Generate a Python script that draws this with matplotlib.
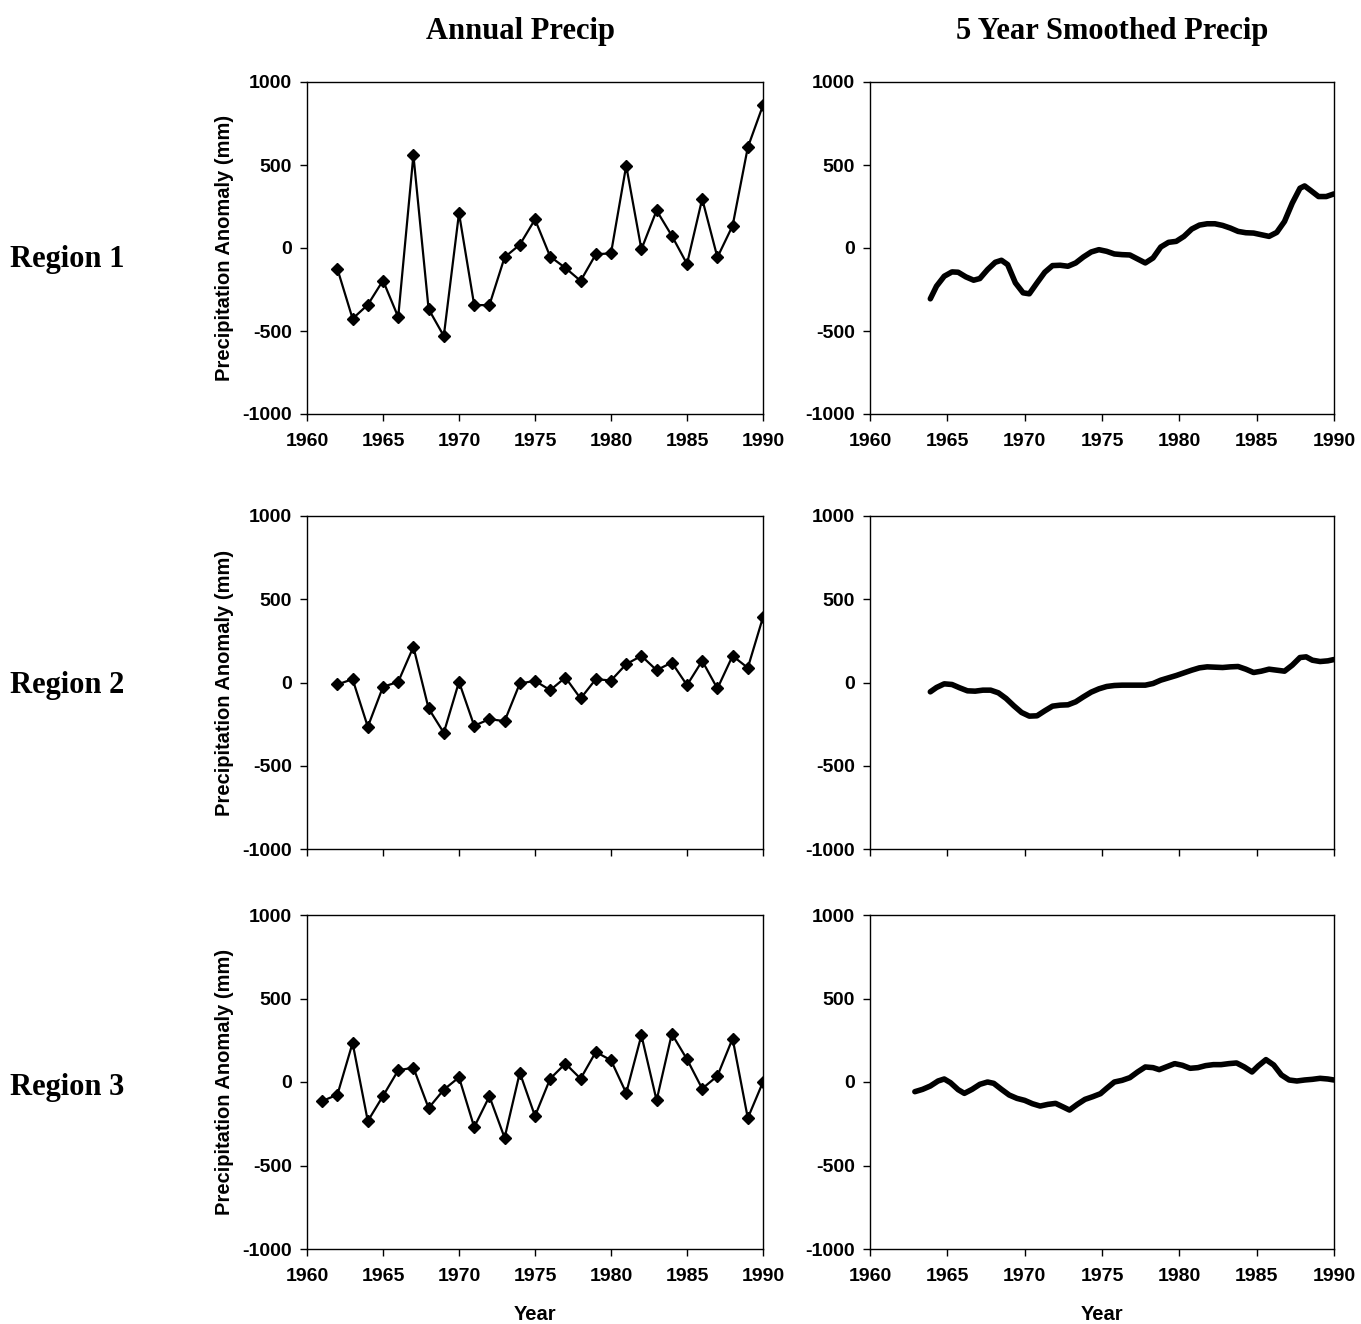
#Annual and 5 year smoothed precipitation anomaly for three regions

import matplotlib
matplotlib.use("Agg")
import matplotlib.pyplot as plt

plt.rcParams["axes.unicode_minus"] = False     #plain hyphen on negative ticks

years_r1 = list(range(1962, 1991))
annual_r1 = [-126, -426, -342, -196, -416, 560, -368, -530, 210, -344,
             -344, -56, 20, 172, -52, -120, -198, -38, -32, 496,
             -8, 226, 74, -96, 296, -56, 134, 606, 860]

years_r2 = list(range(1962, 1991))
annual_r2 = [-12, 20, -266, -26, 4, 214, -156, -302, 4, -260,
             -220, -232, -6, 10, -46, 30, -96, 20, 12, 110,
             160, 74, 120, -16, 130, -36, 160, 88, 392]

years_r3 = list(range(1961, 1991))
annual_r3 = [-114, -76, 234, -234, -84, 70, 86, -156, -46, 28,
             -270, -86, -334, 56, -204, 20, 110, 20, 180, 130,
             -66, 280, -110, 288, 136, -40, 36, 260, -216, 0]

# smoothed series, read every half year or so
smooth_x_r1 = [1963.9, 1964.3, 1964.8, 1965.3, 1965.7, 1966.2, 1966.7, 1967.1, 1967.6, 1968.1,
               1968.5, 1968.9, 1969.4, 1969.9, 1970.3, 1970.8, 1971.3, 1971.8, 1972.3, 1972.8,
               1973.3, 1973.8, 1974.3, 1974.8, 1975.3, 1975.8, 1976.3, 1976.8, 1977.3, 1977.8,
               1978.3, 1978.8, 1979.3, 1979.8, 1980.3, 1980.8, 1981.3, 1981.8, 1982.3, 1982.8,
               1983.3, 1983.8, 1984.3, 1984.8, 1985.3, 1985.8, 1986.3, 1986.8, 1987.3, 1987.8,
               1988.1, 1988.5, 1989.0, 1989.5, 1990.0]
smooth_y_r1 = [-306, -230, -170, -144, -146, -174, -194, -184, -130, -86,
               -74, -100, -210, -270, -276, -210, -146, -106, -104, -110,
               -90, -54, -24, -10, -20, -36, -40, -42, -66, -90,
               -60, 6, 34, 40, 70, 114, 138, 146, 146, 136,
               120, 100, 92, 90, 80, 70, 94, 160, 270, 360,
               374, 346, 310, 310, 326]

smooth_x_r2 = [1963.9, 1964.3, 1964.8, 1965.3, 1965.8, 1966.3, 1966.8, 1967.3, 1967.8, 1968.3,
               1968.8, 1969.3, 1969.8, 1970.3, 1970.8, 1971.3, 1971.8, 1972.3, 1972.8, 1973.3,
               1973.8, 1974.3, 1974.8, 1975.3, 1975.8, 1976.3, 1976.8, 1977.3, 1977.8, 1978.3,
               1978.8, 1979.3, 1979.8, 1980.3, 1980.8, 1981.3, 1981.8, 1982.3, 1982.8, 1983.3,
               1983.8, 1984.3, 1984.8, 1985.3, 1985.8, 1986.3, 1986.8, 1987.3, 1987.8, 1988.2,
               1988.6, 1989.1, 1989.6, 1990.0]
smooth_y_r2 = [-56, -30, -8, -12, -32, -50, -52, -46, -46, -62,
               -96, -140, -180, -202, -200, -170, -142, -136, -134, -116,
               -86, -58, -38, -24, -18, -16, -16, -16, -16, -6,
               14, 28, 42, 58, 74, 88, 94, 92, 90, 94,
               96, 80, 60, 68, 80, 74, 68, 104, 150, 154,
               134, 126, 130, 138]

smooth_x_r3 = [1962.9, 1963.4, 1963.9, 1964.4, 1964.8, 1965.2, 1965.7, 1966.1, 1966.6, 1967.1,
               1967.6, 1968.0, 1968.5, 1969.0, 1969.5, 1970.0, 1970.5, 1971.0, 1971.5, 1972.0,
               1972.5, 1972.9, 1973.4, 1973.9, 1974.4, 1974.9, 1975.3, 1975.8, 1976.3, 1976.8,
               1977.3, 1977.8, 1978.3, 1978.7, 1979.2, 1979.7, 1980.2, 1980.7, 1981.2, 1981.7,
               1982.2, 1982.7, 1983.2, 1983.7, 1984.2, 1984.7, 1985.1, 1985.6, 1986.1, 1986.6,
               1987.1, 1987.6, 1988.1, 1988.6, 1989.1, 1989.6, 1990.0]
smooth_y_r3 = [-58, -44, -24, 6, 18, -4, -46, -68, -44, -14,
               0, -8, -44, -78, -98, -110, -130, -144, -134, -128,
               -150, -168, -134, -104, -88, -70, -38, 0, 10, 26,
               60, 90, 86, 74, 92, 110, 100, 82, 86, 98,
               104, 104, 110, 114, 90, 60, 96, 134, 102, 42,
               12, 6, 12, 16, 22, 18, 12]

region_names = ["Region 1", "Region 2", "Region 3"]
column_titles = ["Annual Precip", "5 Year Smoothed Precip"]
x_ticks = [1960, 1965, 1970, 1975, 1980, 1985, 1990]
y_ticks = [-1000, -500, 0, 500, 1000]

annual = [(years_r1, annual_r1), (years_r2, annual_r2), (years_r3, annual_r3)]
smooth = [(smooth_x_r1, smooth_y_r1), (smooth_x_r2, smooth_y_r2), (smooth_x_r3, smooth_y_r3)]

W, H = 1361, 1324
fig = plt.figure(figsize=(W / 100, H / 100), dpi=100)

sans = "Liberation Sans"
serif = "Liberation Serif"

# panel boxes in pixels: (left, right) and (top, bottom)
rows_px = [(82, 414), (516, 849), (915, 1249)]
cols_px = [(307, 763), (870, 1334)]

def make_axes(col, row):
    l, r = cols_px[col]
    t, b = rows_px[row]
    return fig.add_axes([l / W, 1 - b / H, (r - l) / W, (b - t) / H])

for row in range(3):
    for col in range(2):
        ax = make_axes(col, row)
        if col == 0:
            xs, ys = annual[row]
            ax.plot(xs, ys, color="black", linewidth=1.6, marker="D",
                    markersize=6, markerfacecolor="black", markeredgecolor="black")
        else:
            xs, ys = smooth[row]
            ax.plot(xs, ys, color="black", linewidth=4, solid_capstyle="round",
                    solid_joinstyle="round")

        ax.set_xlim(1960, 1990)
        ax.set_ylim(-1000, 1000)
        ax.set_xticks(x_ticks)
        ax.set_yticks(y_ticks)
        ax.tick_params(direction="out", length=5, width=1, labelsize=14)
        ax.tick_params(axis="x", pad=9)
        ax.tick_params(axis="y", pad=6)
        for lab in ax.get_xticklabels() + ax.get_yticklabels():
            lab.set_fontfamily(sans)
            lab.set_fontweight("bold")
        for sp in ax.spines.values():
            sp.set_linewidth(1.0)

        if row == 1:
            ax.set_xticklabels([])       #middle row has no year labels
        if row == 2:
            ax.set_xlabel("Year", fontsize=14.5, fontweight="bold", family=sans, labelpad=14)
        if col == 0:
            ax.set_ylabel("Precipitation Anomaly (mm)", fontsize=14.5,
                          fontweight="bold", family=sans, labelpad=6)

# column titles and row names
fig.text(520 / W, 1 - 32 / H, column_titles[0], ha="center", va="center",
         fontsize=22, fontweight="bold", family=serif)
fig.text(1112 / W, 1 - 32 / H, column_titles[1], ha="center", va="center",
         fontsize=22, fontweight="bold", family=serif)
for name, yc in zip(region_names, [260, 685, 1087]):
    fig.text(10 / W, 1 - yc / H, name, ha="left", va="center",
             fontsize=22, fontweight="bold", family=serif)

fig.savefig("out.png", dpi=100, facecolor="white")
